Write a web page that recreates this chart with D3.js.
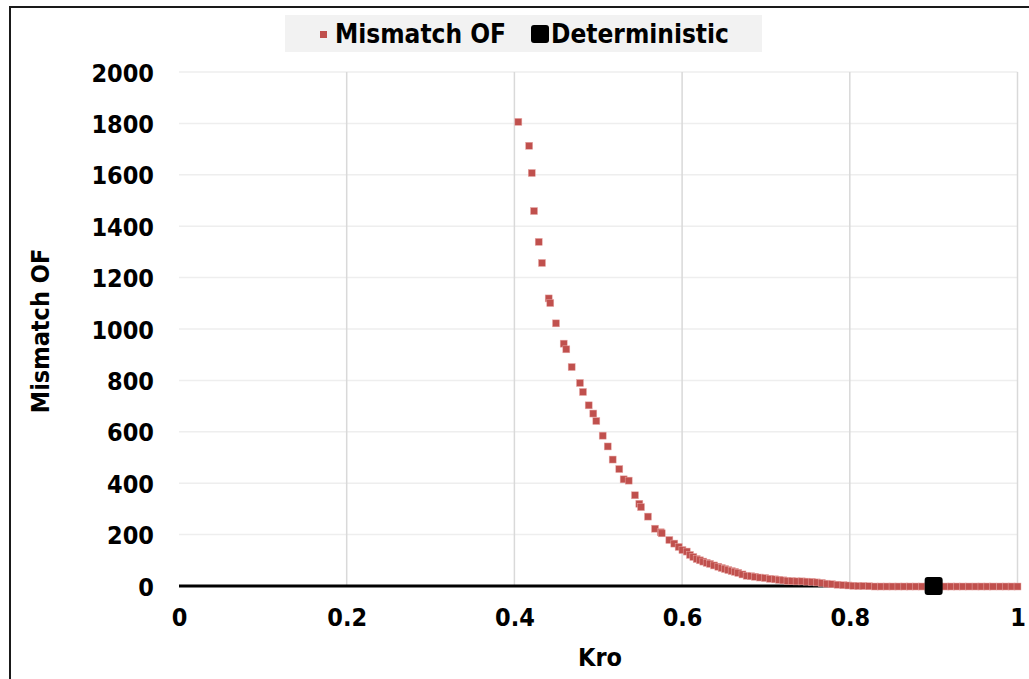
<!DOCTYPE html>
<meta charset="utf-8">
<script src="https://d3js.org/d3.v7.min.js"></script>
<style>
  body { margin: 0; background: #fff; }
  text { font-family: "DejaVu Sans Condensed", "DejaVu Sans", Verdana, sans-serif; font-weight: bold; fill: #000; }
</style>
<div id="chart"></div>
<script>

// Mismatch OF vs Kro
const kro = [0.4047, 0.4176, 0.4207, 0.4234, 0.4290, 0.4329, 0.4409, 0.4428, 0.4496, 0.4588,
  0.4619, 0.4683, 0.4782, 0.4818, 0.4886, 0.4941, 0.4977, 0.5053, 0.5113, 0.5172,
  0.5251, 0.5303, 0.5363, 0.5438, 0.5490, 0.5510, 0.5593, 0.5677, 0.5745, 0.5757,
  0.5848, 0.5907, 0.5959, 0.6004, 0.6055, 0.6094, 0.6134, 0.6174, 0.6213, 0.6253,
  0.6293, 0.6333, 0.6382, 0.6432, 0.6472, 0.6512, 0.6551, 0.6591, 0.6630, 0.6670,
  0.6720, 0.6770, 0.6820, 0.6869, 0.6929, 0.6989, 0.7048, 0.7108, 0.7158, 0.7207,
  0.7257, 0.7307, 0.7366, 0.7426, 0.7486, 0.7546, 0.7606, 0.7665, 0.7725, 0.7784,
  0.7854, 0.7923, 0.7983, 0.8042, 0.8102, 0.8162, 0.8231, 0.8301, 0.8370, 0.8440,
  0.8510, 0.8580, 0.8650, 0.8720, 0.8790, 0.8860, 0.8930, 0.9000, 0.9070, 0.9140,
  0.9210, 0.9280, 0.9350, 0.9420, 0.9500, 0.9570, 0.9640, 0.9710, 0.9790, 0.9860,
  0.9930, 1.0000];
const mismatch = [1806, 1713, 1607, 1459, 1339, 1257, 1119, 1101, 1022, 943,
  921, 852, 790, 755, 703, 671, 642, 585, 543, 492,
  455, 415, 410, 353, 320, 307, 270, 223, 209, 205,
  179, 165, 152, 140, 134, 121, 113, 105, 100, 95,
  90, 86, 80, 75, 70, 66, 62, 58, 55, 51,
  45, 40, 38, 36, 33, 31, 28, 26, 24, 22,
  20, 19, 18, 18, 17, 16, 14, 12, 9, 7,
  5, 3, 2, 1, 0, 0, -1, -2, -2, -2,
  -2, -2, -2, -2, -2, -2, -2, -2, -2, -2,
  -2, -2, -2, -2, -2, -2, -2, -2, -2, -2,
  -2, -2];

// Deterministic case
const detKro = 0.9;
const detOF = 0;

const xTicks = [0, 0.2, 0.4, 0.6, 0.8, 1];
const yTicks = [0, 200, 400, 600, 800, 1000, 1200, 1400, 1600, 1800, 2000];

const W = 1029, H = 679;
const red = "#c0504d";

const svg = d3.select("#chart").append("svg")
    .attr("width", W)
    .attr("height", H);

// outer frame
svg.append("rect")
    .attr("x", 10).attr("y", 7)
    .attr("width", W + 20).attr("height", H + 20)
    .attr("fill", "none")
    .attr("stroke", "#1a1a1a")
    .attr("stroke-width", 2);

const x = d3.scaleLinear().domain([0, 1]).range([179, 1017.5]);
const y = d3.scaleLinear().domain([0, 2000]).range([586, 72]);

// gridlines
svg.append("g")
  .selectAll("line")
  .data(yTicks.slice(1))
  .join("line")
    .attr("x1", x(0)).attr("x2", x(1))
    .attr("y1", d => y(d)).attr("y2", d => y(d))
    .attr("stroke", "#eeeeee")
    .attr("stroke-width", 1.5);

svg.append("g")
  .selectAll("line")
  .data(xTicks.slice(1))
  .join("line")
    .attr("x1", d => x(d)).attr("x2", d => x(d))
    .attr("y1", y(0)).attr("y2", y(2000))
    .attr("stroke", "#d9d9d9")
    .attr("stroke-width", 1.5);

// axes (labels only)
const xAxis = svg.append("g")
    .attr("transform", `translate(0, ${y(0) + 19})`)
    .call(d3.axisBottom(x).tickValues(xTicks).tickSize(0).tickFormat(d3.format("")));
xAxis.select(".domain").remove();
xAxis.selectAll("text")
    .style("font-size", "25px")
    .attr("dy", "0.71em");

const yAxis = svg.append("g")
    .attr("transform", `translate(${x(0) - 25}, 0)`)
    .call(d3.axisLeft(y).tickValues(yTicks).tickSize(0).tickFormat(d3.format("")));
yAxis.select(".domain").remove();
yAxis.selectAll("text")
    .style("font-size", "25px")
    .attr("x", 0)
    .attr("dy", "0.36em");

// axis titles
svg.append("text")
    .attr("x", 600).attr("y", 666)
    .attr("text-anchor", "middle")
    .style("font-size", "25px")
    .text("Kro");

svg.append("text")
    .attr("transform", `translate(49, 331) rotate(-90)`)
    .attr("text-anchor", "middle")
    .style("font-size", "25px")
    .text("Mismatch OF");

// deterministic zero line
svg.append("line")
    .attr("x1", x(0)).attr("x2", x(detKro))
    .attr("y1", y(detOF)).attr("y2", y(detOF))
    .attr("stroke", "#000")
    .attr("stroke-width", 3);

// mismatch points
const pts = kro.map((k, i) => ({k: k, v: mismatch[i]}));
svg.append("g")
  .selectAll("rect")
  .data(pts)
  .join("rect")
    .attr("x", d => x(d.k) - 3.5)
    .attr("y", d => y(d.v) - 3.5)
    .attr("width", 7).attr("height", 7)
    .attr("fill", red)
    .attr("stroke", "#e8a9a7")
    .attr("stroke-width", 0.5);

// deterministic marker
svg.append("rect")
    .attr("x", x(detKro) - 9).attr("y", y(detOF) - 9)
    .attr("width", 18).attr("height", 18)
    .attr("rx", 3)
    .attr("fill", "#000");

// legend
const lg = svg.append("g");
lg.append("rect")
    .attr("x", 285).attr("y", 15)
    .attr("width", 477).attr("height", 37)
    .attr("fill", "#f2f2f2");
lg.append("rect")
    .attr("x", 320).attr("y", 31)
    .attr("width", 7).attr("height", 7)
    .attr("fill", red);
lg.append("text")
    .attr("x", 335).attr("y", 34)
    .attr("dy", "0.36em")
    .style("font-size", "26px")
    .text("Mismatch OF");
lg.append("rect")
    .attr("x", 531).attr("y", 25)
    .attr("width", 18).attr("height", 18)
    .attr("rx", 3)
    .attr("fill", "#000");
lg.append("text")
    .attr("x", 551).attr("y", 34)
    .attr("dy", "0.36em")
    .style("font-size", "26px")
    .text("Deterministic");

</script>
